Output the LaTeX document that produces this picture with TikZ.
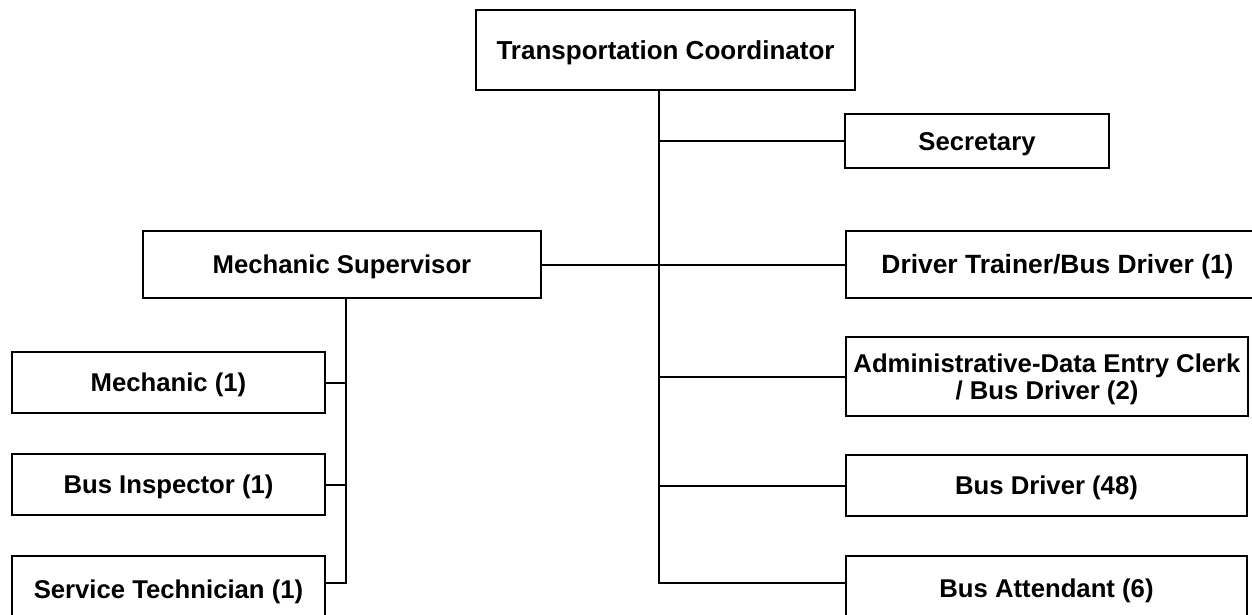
\documentclass[tikz,border=0pt]{standalone}
\usepackage{fontspec}
\setmainfont{Liberation Sans}
\begin{document}
\begin{tikzpicture}[x=1pt,y=-1pt,
  box/.style={draw,line width=2pt,fill=white,rectangle,inner sep=0pt,align=center,
    text height=18.4pt,text depth=0pt,
    font=\fontsize{25.7}{27}\selectfont\bfseries},
  conn/.style={line width=2pt}]
\useasboundingbox (0,0) rectangle (1252,614);
\node[box,minimum width=379pt,minimum height=80pt,font=\fontsize{26}{28}\selectfont\bfseries] (tc) at (665.5,50) {Transportation Coordinator};
\node[box,minimum width=264pt,minimum height=54pt] (sec) at (977,141) {Secretary};
\node[box,minimum width=398pt,minimum height=67pt] (ms) at (342,264.5) {Mechanic Supervisor};
\node[box,minimum width=423pt,minimum height=67pt,font=\fontsize{26.4}{28}\selectfont\bfseries] (dt) at (1057.5,264.5) {Driver Trainer/Bus Driver (1)};
\node[box,minimum width=402pt,minimum height=79pt,text height=,text depth=0pt] (adm) at (1047,376.5) {Administrative-Data Entry Clerk\\ / Bus Driver (2)};
\node[box,minimum width=401pt,minimum height=61pt] (bd) at (1046.5,485.5) {Bus Driver (48)};
\node[box,minimum width=401pt,minimum height=64pt] (ba) at (1046.5,588) {Bus Attendant (6)};
\node[box,minimum width=313pt,minimum height=61pt] (mech) at (168.5,382.5) {Mechanic (1)};
\node[box,minimum width=313pt,minimum height=61pt] (bi) at (168.5,484.5) {Bus Inspector (1)};
\node[box,minimum width=313pt,minimum height=66pt] (st) at (168.5,589) {Service Technician (1)};
% main trunk
\coordinate (t1) at (659,90);
\coordinate (tend) at (659,583);
\draw[conn] (tc.south -| t1) -- (tend) -- (tend -| ba.west);
\draw[conn] (t1 |- sec.west) -- (sec.west);
\draw[conn] (ms.east) -- (dt.west);
\draw[conn] (t1 |- 0,377) -- (adm.west |- 0,377);
\draw[conn] (t1 |- 0,486) -- (bd.west |- 0,486);
% sub trunk
\coordinate (s1) at (346,298);
\coordinate (send) at (346,583);
\draw[conn] (ms.south -| s1) -- (send) -- (send -| st.east);
\draw[conn] (s1 |- mech.east) -- (mech.east);
\draw[conn] (s1 |- bi.east) -- (bi.east);
\end{tikzpicture}
\end{document}
